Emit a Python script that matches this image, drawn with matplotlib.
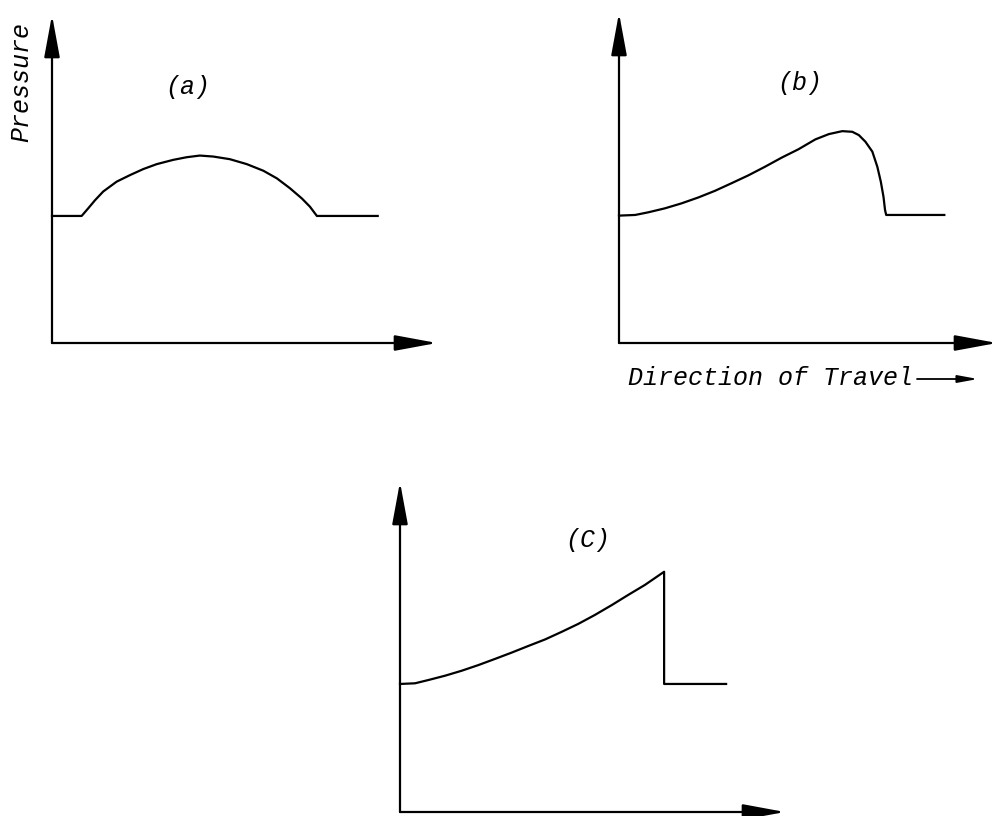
import matplotlib
matplotlib.use("Agg")
import matplotlib.pyplot as plt
from matplotlib.patches import FancyArrowPatch

FIG_W, FIG_H = 997, 816
XS, YS = 38.5, 33.0          # pixels per data unit

# (a) symmetric pressure pulse
a_x = [0.0, 0.77, 0.94, 1.12, 1.33, 1.68, 2.03, 2.37, 2.72, 3.15, 3.50, 3.84,
       4.19, 4.62, 5.06, 5.49, 5.84, 6.18, 6.49, 6.70, 6.88, 8.46]
a_p = [3.85, 3.85, 4.08, 4.33, 4.59, 4.89, 5.09, 5.27, 5.42, 5.55, 5.63, 5.68,
       5.65, 5.57, 5.42, 5.22, 4.99, 4.69, 4.38, 4.13, 3.85, 3.85]

# (b) pressure pulse skewed toward the front
b_x = [0.0, 0.42, 0.76, 1.19, 1.62, 2.06, 2.49, 2.92, 3.36, 3.79, 4.23, 4.66,
       5.10, 5.45, 5.80, 6.06, 6.23, 6.40, 6.58, 6.71, 6.80, 6.87, 6.91, 6.94,
       8.45]
b_p = [3.86, 3.88, 3.96, 4.08, 4.23, 4.41, 4.61, 4.84, 5.08, 5.34, 5.62, 5.87,
       6.17, 6.33, 6.42, 6.40, 6.30, 6.10, 5.80, 5.34, 4.89, 4.43, 4.03, 3.88,
       3.88]

# (c) shock front
c_x = [0.0, 0.39, 0.74, 1.17, 1.60, 2.03, 2.47, 2.90, 3.33, 3.77, 4.20, 4.63,
       5.06, 5.50, 5.93, 6.36, 6.86, 6.86, 8.47]
c_p = [3.88, 3.90, 4.00, 4.13, 4.28, 4.45, 4.64, 4.83, 5.03, 5.23, 5.46, 5.70,
       5.97, 6.27, 6.58, 6.88, 7.28, 3.88, 3.88]

panel_labels = ["(a)", "(b)", "(C)"]

fig = plt.figure(figsize=(FIG_W / 100, FIG_H / 100), dpi=100)
fig.patch.set_facecolor("white")

TXT = dict(family="Liberation Mono", style="italic", color="black",
           fontsize=18)


def fx(px):
    return px / FIG_W


def fy(py):
    return 1 - py / FIG_H


def panel(ox, oy, w, h, xs, ps, label, lx, ly):
    ax = fig.add_axes([fx(ox), fy(oy), w / FIG_W, h / FIG_H])
    ax.set_xlim(0, w / XS)
    ax.set_ylim(0, h / YS)
    ax.axis("off")
    arrow = dict(arrowstyle="-|>,head_length=26,head_width=4.8",
                 mutation_scale=1, lw=1.6, color="black",
                 shrinkA=0, shrinkB=0)
    ax.annotate("", xy=(1, 0), xytext=(0, 0), xycoords="axes fraction",
                arrowprops=arrow, annotation_clip=False)
    ax.annotate("", xy=(0, 1), xytext=(0, 0), xycoords="axes fraction",
                arrowprops=arrow, annotation_clip=False)
    ax.plot(xs, ps, color="black", lw=1.6, clip_on=False,
            solid_joinstyle="round")
    fig.text(fx(lx), fy(ly), label, ha="center", va="center", **TXT)
    return ax


panel(52, 343, 385, 328, a_x, a_p, panel_labels[0], 188, 87)
panel(619, 343, 378, 330, b_x, b_p, panel_labels[1], 800, 83)
panel(400, 812, 385, 330, c_x, c_p, panel_labels[2], 588, 540)

fig.text(fx(21), fy(82), "Pressure", rotation=90, ha="center", va="center",
         **TXT)
fig.text(fx(628), fy(378), "Direction of Travel", ha="left", va="center",
         **TXT)
fig.add_artist(FancyArrowPatch(
    (fx(917), fy(379)), (fx(978), fy(379)), transform=fig.transFigure,
    arrowstyle="-|>,head_length=12,head_width=2.2", mutation_scale=1,
    lw=1.3, color="black", shrinkA=0, shrinkB=0))

fig.savefig("out.png", dpi=100, facecolor="white")
